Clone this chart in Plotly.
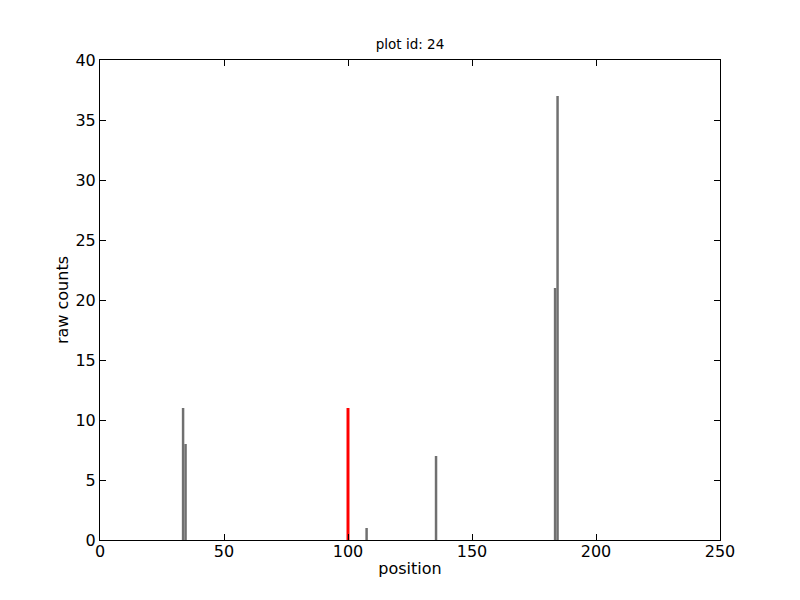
import plotly.graph_objects as go

positions = [33, 34, 107, 135, 183, 184]
counts = [11, 8, 1, 7, 21, 37]
highlight_pos = [100]
highlight_counts = [11]
x_ticks = [0, 50, 100, 150, 200, 250]
y_ticks = [0, 5, 10, 15, 20, 25, 30, 35, 40]

fig = go.Figure()
fig.add_trace(go.Bar(x=positions, y=counts, width=1, offset=0,
                     marker=dict(color="#707070", line=dict(width=0))))
fig.add_trace(go.Bar(x=highlight_pos, y=highlight_counts, width=1.2,
                     marker=dict(color="#ff0000", line=dict(width=0))))

axis_common = dict(showgrid=False, zeroline=False, showline=True, linecolor="black",
                   linewidth=1, mirror="ticks", ticks="inside", ticklen=6,
                   tickcolor="black", tickfont=dict(size=16, color="black"))

fig.update_layout(
    width=800, height=600,
    paper_bgcolor="white", plot_bgcolor="white",
    margin=dict(l=92, r=88, t=52, b=68),
    showlegend=False, barmode="overlay",
    font=dict(family="DejaVu Sans", color="black"),
    title=dict(text="plot id: 24", x=0.5, xref="paper", xanchor="center",
               y=1 - 36/600, yanchor="middle",
               font=dict(size=13.5, color="black")),
    xaxis=dict(range=[0, 250], tickvals=x_ticks, ticklabelstandoff=-3,
               title=dict(text="position", font=dict(size=16), standoff=2), **axis_common),
    yaxis=dict(range=[0, 40], tickvals=y_ticks,
               title=dict(text="raw counts", font=dict(size=16), standoff=2), **axis_common),
)
fig.write_html("out.html")
